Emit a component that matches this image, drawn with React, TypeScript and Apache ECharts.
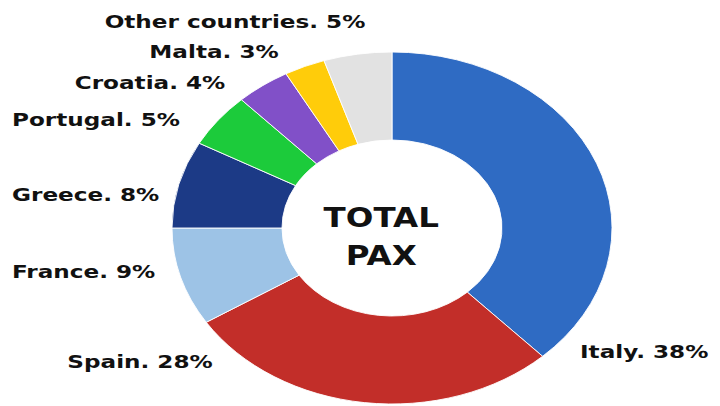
import React, { useEffect, useRef } from "react";
import * as echarts from "echarts";

const countries = ["Italy", "Spain", "France", "Greece", "Portugal", "Croatia", "Malta", "Other countries"];
const shares = [38, 28, 9, 8, 5, 4, 3, 5];
const colors = ["#2F6BC3", "#C22E29", "#9DC3E6", "#1C3A86", "#1CCB3B", "#8150C8", "#FFCC0A", "#E2E2E2"];

const SX = 1.25; // horizontal stretch of the original picture
// label anchor positions (screen px) and alignment
const labelPos: [number, number, string][] = [
  [580, 352, "left"],
  [140, 362, "center"],
  [12, 272, "left"],
  [12, 195, "left"],
  [12, 120, "left"],
  [150, 83, "center"],
  [214, 52, "center"],
  [235, 22, "center"],
];

export default function App() {
  const ref = useRef<HTMLDivElement>(null);
  useEffect(() => {
    if (!ref.current) return;
    const chart = echarts.init(ref.current, undefined, { renderer: "svg" });
    chart.setOption({
      animation: false,
      backgroundColor: "#ffffff",
      graphic: [
        {
          type: "text",
          x: 305,
          y: 237,
          style: {
            text: "TOTAL\nPAX",
            fill: "#111111",
            fontFamily: "'DejaVu Sans', sans-serif",
            fontWeight: "bold",
            fontSize: 26,
            textAlign: "center",
            textVerticalAlign: "middle",
            lineHeight: 38,
          },
          z: 100,
        },
      ],
      series: [
        {
          type: "pie",
          center: [392 / SX, 228],
          radius: [88, 176],
          startAngle: 90,
          clockwise: true,
          avoidLabelOverlap: false,
          data: countries.map((c, i) => ({
            name: c,
            value: shares[i],
            itemStyle: { color: colors[i] },
          })),
          itemStyle: { borderColor: "#ffffff", borderWidth: 0.8 },
          label: {
            show: true,
            position: "outside",
            formatter: (p: any) => `${p.name}. ${p.value}%`,
            color: "#111111",
            fontFamily: "'DejaVu Sans', sans-serif",
            fontWeight: "bold",
            fontSize: 18.5,
          },
          labelLine: { show: false },
          labelLayout: (p: any) => {
            const lp = labelPos[p.dataIndex];
            return {
              x: lp[0] / SX,
              y: lp[1],
              align: lp[2],
              verticalAlign: "middle",
            };
          },
          emphasis: { disabled: true },
        },
      ],
    });
    return () => chart.dispose();
  }, []);
  return (
    <div
      style={{
        position: "absolute",
        left: 0,
        top: 0,
        width: 720,
        height: 406,
        overflow: "hidden",
        background: "#fff",
      }}
    >
      <div
        ref={ref}
        style={{
          width: 720 / SX,
          height: 406,
          transform: `scaleX(${SX})`,
          transformOrigin: "0 0",
        }}
      />
    </div>
  );
}
